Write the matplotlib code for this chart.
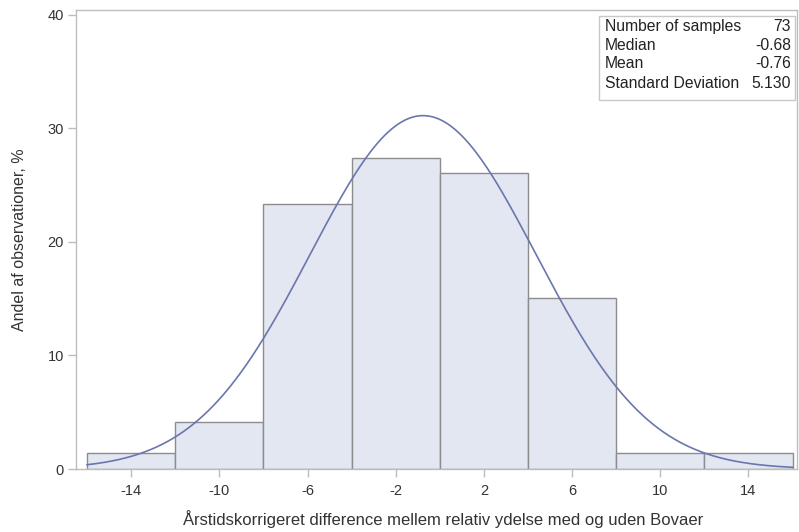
import numpy as np
import matplotlib
matplotlib.use("Agg")
import matplotlib.pyplot as plt
from matplotlib.patches import Rectangle

plt.rcParams['font.family'] = ['Liberation Sans', 'DejaVu Sans']

bin_centers = [-14, -10, -6, -2, 2, 6, 10, 14]
bin_width = 4
percent = [1.37, 4.11, 23.29, 27.40, 26.03, 15.07, 1.37, 1.37]
xticks = [-14, -10, -6, -2, 2, 6, 10, 14]
yticks = [0, 10, 20, 30, 40]
n_samples = 73
median = -0.68
mean = -0.76
sd = 5.130
stat_labels = ["Number of samples", "Median", "Mean", "Standard Deviation"]
stat_values = ["73", "-0.68", "-0.76", "5.130"]

fig = plt.figure(figsize=(7.99, 5.32), dpi=100)
ax = fig.add_axes([0.0957, 0.1184, 0.9018, 0.8636])

ax.bar(bin_centers, percent, width=bin_width, color='#e3e7f1', edgecolor='#8c8c8c', linewidth=1.0, zorder=2)

xs = np.linspace(-16, 16, 400)
ys = 100 * bin_width / (sd * np.sqrt(2 * np.pi)) * np.exp(-0.5 * ((xs - mean) / sd) ** 2)
ax.plot(xs, ys, color='#6a76ae', linewidth=1.2, zorder=3)

ax.set_xlim(-16.48, 16.2)
ax.set_ylim(0, 40.44)
ax.set_xticks(xticks)
ax.set_xticklabels([str(t) for t in xticks])
ax.set_yticks(yticks)
for s in ['left', 'bottom', 'top', 'right']:
    ax.spines[s].set_color('#bdbdbd')
    ax.spines[s].set_linewidth(1.0)
ax.tick_params(axis='both', colors='#bdbdbd', labelcolor='#333333', labelsize=10.5, length=6, width=1)
ax.tick_params(axis='x', pad=5)
ax.tick_params(axis='y', pad=3)
ax.set_xlabel("Årstidskorrigeret difference mellem relativ ydelse med og uden Bovaer", fontsize=12, color='#333333')
ax.set_ylabel("Andel af observationer, %", fontsize=11.5, color='#333333')
ax.xaxis.set_label_coords(0.509, -0.090)
ax.yaxis.set_label_coords(-0.068, 0.5)

# stats box
x0, x1 = 0.725, 0.997
y_top, y_bot = 0.986, 0.803
box = Rectangle((x0, y_bot), x1 - x0, y_top - y_bot, transform=ax.transAxes,
                facecolor='white', edgecolor='#c8c8c8', linewidth=1.0, zorder=5)
ax.add_patch(box)
row_y = [0.964, 0.922, 0.882, 0.840]
for lab, val, yy in zip(stat_labels, stat_values, row_y):
    ax.text(x0 + 0.008, yy, lab, transform=ax.transAxes, fontsize=11.3, color='#222222', va='center', ha='left', zorder=6)
    ax.text(x1 - 0.005, yy, val, transform=ax.transAxes, fontsize=11.3, color='#222222', va='center', ha='right', zorder=6)

fig.savefig("out.png", dpi=100)
